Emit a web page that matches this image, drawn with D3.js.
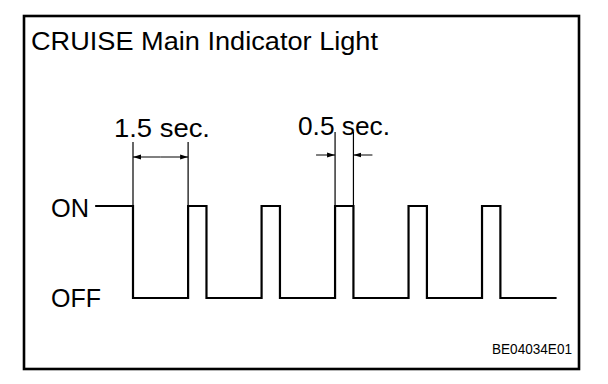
<!DOCTYPE html>
<html>
<head>
<meta charset="utf-8">
<script src="https://cdn.jsdelivr.net/npm/d3@7"></script>
<style>
  html, body { margin: 0; padding: 0; background: #fff; }
  svg { display: block; }
  text { font-family: "Liberation Sans", Arial, Helvetica, sans-serif; fill: #000; }
</style>
</head>
<body>
<svg id="chart" width="608" height="384"></svg>
<script>
// ---- data ----
const title = "CRUISE Main Indicator Light";
const figureCode = "BE04034E01";
const levelLabels = ["OFF", "ON"];
// transition times (seconds) and the state that starts at each time
const stepTimes  = [-1, 0, 1.5, 2, 3.5, 4, 5.5, 6, 7.5, 8, 9.5, 10, 11.5];
const stepStates = [ 1, 0, 1,   0, 1,   0, 1,   0, 1,   0, 1,   0,  0];
// dimension annotations
const dimLabels = ["1.5 sec.", "0.5 sec."];
const dimStart  = [0, 5.5];
const dimEnd    = [1.5, 6];
const dimOutside = [false, true];

// ---- drawing ----
const svg = d3.select("#chart");

// frame
svg.append("rect")
  .attr("x", 24).attr("y", 16).attr("width", 555).attr("height", 353)
  .attr("fill", "none").attr("stroke", "#000").attr("stroke-width", 2.6);

const x = d3.scaleLinear().domain([0, 11.5]).range([133, 555.5]);
const y = d3.scaleLinear().domain([0, 1]).range([298, 206]);

// title
svg.append("text").attr("x", 31).attr("y", 50)
  .attr("font-size", 26).attr("textLength", 347).attr("lengthAdjust", "spacingAndGlyphs")
  .text(title);

// level labels
const lvlTL = [50, 38];
levelLabels.forEach((lab, i) => {
  svg.append("text").attr("x", 51).attr("y", y(i) + (i ? 11 : 9))
    .attr("font-size", 26).attr("textLength", lvlTL[i]).attr("lengthAdjust", "spacingAndGlyphs")
    .text(lab);
});

// signal
const pts = stepTimes.map((t, i) => [t, stepStates[i]]);
const line = d3.line().x(d => x(d[0])).y(d => y(d[1])).curve(d3.curveStepAfter);
svg.append("path").attr("d", line(pts))
  .attr("fill", "none").attr("stroke", "#000").attr("stroke-width", 2.2)
  .attr("stroke-linejoin", "miter").attr("stroke-linecap", "square");

// arrow marker
const defs = svg.append("defs");
defs.append("marker").attr("id", "arr")
  .attr("viewBox", "0 0 8 6").attr("refX", 8).attr("refY", 3)
  .attr("markerWidth", 8).attr("markerHeight", 6).attr("markerUnits", "userSpaceOnUse")
  .attr("orient", "auto")
  .append("path").attr("d", "M0,0.6 L8,3 L0,5.4 Z").attr("fill", "#000");

// dimensions
const extTop = [142, 132];
const arrY = [157, 155];
const lblX = [114, 298];
const lblY = [137, 135];
const lblW = [96, 92];
dimLabels.forEach((lab, i) => {
  const x0 = x(dimStart[i]), x1 = x(dimEnd[i]);
  [x0, x1].forEach(xx => {
    svg.append("line").attr("x1", xx).attr("x2", xx)
      .attr("y1", extTop[i]).attr("y2", y(1))
      .attr("stroke", "#000").attr("stroke-width", 1.2);
  });
  if (!dimOutside[i]) {
    svg.append("line").attr("x1", (x0 + x1) / 2).attr("x2", x0)
      .attr("y1", arrY[i]).attr("y2", arrY[i])
      .attr("stroke", "#000").attr("stroke-width", 1).attr("marker-end", "url(#arr)");
    svg.append("line").attr("x1", (x0 + x1) / 2).attr("x2", x1)
      .attr("y1", arrY[i]).attr("y2", arrY[i])
      .attr("stroke", "#000").attr("stroke-width", 1).attr("marker-end", "url(#arr)");
  } else {
    svg.append("line").attr("x1", x0 - 19).attr("x2", x0)
      .attr("y1", arrY[i]).attr("y2", arrY[i])
      .attr("stroke", "#000").attr("stroke-width", 1).attr("marker-end", "url(#arr)");
    svg.append("line").attr("x1", x1 + 19).attr("x2", x1)
      .attr("y1", arrY[i]).attr("y2", arrY[i])
      .attr("stroke", "#000").attr("stroke-width", 1).attr("marker-end", "url(#arr)");
  }
  svg.append("text").attr("x", lblX[i]).attr("y", lblY[i])
    .attr("font-size", 26).attr("textLength", lblW[i]).attr("lengthAdjust", "spacingAndGlyphs")
    .text(lab);
});

// figure code
svg.append("text").attr("x", 492).attr("y", 354)
  .attr("font-size", 14).attr("textLength", 80).attr("lengthAdjust", "spacingAndGlyphs")
  .text(figureCode);
</script>
</body>
</html>
